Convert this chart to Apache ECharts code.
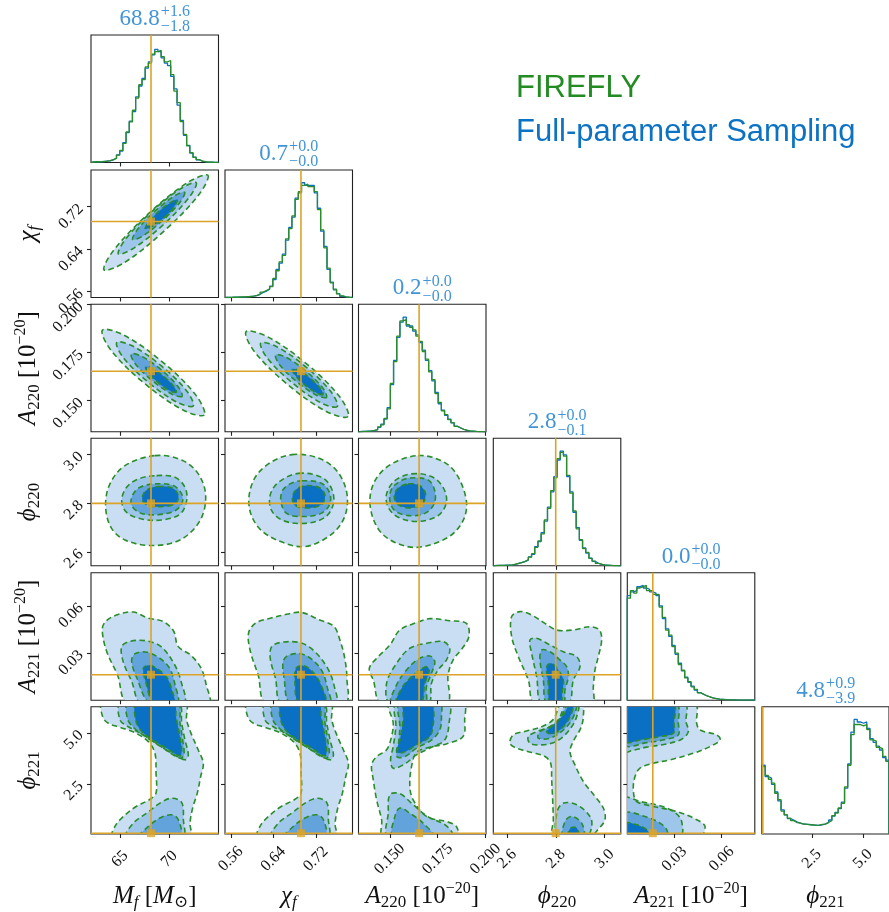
<!DOCTYPE html>
<html><head><meta charset="utf-8">
<script src="https://cdn.jsdelivr.net/npm/echarts@6/dist/echarts.min.js"></script>
<style>html,body{margin:0;padding:0;background:#fff}#c{width:889px;height:912px}</style>
</head><body><div id="c"></div>
<script>
// ================= DATA =================
const axisMin = [62.06, 0.549, 0.1337, 2.543, 0, 0.05];
const axisMax = [74.98, 0.789, 0.2002, 3.066, 0.081, 6.28];
const truthValues = [68.14, 0.692, 0.1653, 2.799, 0.0162, 0.09];
const tickValues = [[65,70],[0.56,0.64,0.72],[0.150,0.175,0.200],[2.6,2.8,3.0],[0.03,0.06],[2.5,5.0]];
const tickLabels = [['65','70'],['0.56','0.64','0.72'],['0.150','0.175','0.200'],['2.6','2.8','3.0'],['0.03','0.06'],['2.5','5.0']];
const titleMedian = ['68.8','0.7','0.2','2.8','0.0','4.8'];
const titlePlus = ['+1.6','+0.0','+0.0','+0.0','+0.0','+0.9'];
const titleMinus = ['\u22121.8','\u22120.0','\u22120.0','\u22120.1','\u22120.0','\u22123.9'];
const axisTitles = [
  '{i|M}{sbi|f} {r|[}{i|M}{sb|\u2299}{r|]}',
  '{i|\u03c7}{sbi|f}',
  '{i|A}{sb|220} {r|[10}{sp|\u221220}{r|]}',
  '{i|\u03d5}{sb|220}',
  '{i|A}{sb|221} {r|[10}{sp|\u221220}{r|]}',
  '{i|\u03d5}{sb|221}'
];
const legendLabels = ['FIREFLY', 'Full-parameter Sampling'];

// 1D histograms (40 bins across each axis range), peak-normalised heights
const histBlue_Mf = [0.005,0.005,0.005,0.007,0.010,0.012,0.020,0.035,0.060,0.090,0.156,0.234,0.325,0.400,0.514,0.600,0.660,0.740,0.790,0.844,0.888,0.870,0.820,0.780,0.760,0.675,0.577,0.450,0.330,0.213,0.135,0.073,0.042,0.020,0.010,0.005,0.003,0.002,0.001,0.000];
const histGreen_Mf = [0.004,0.006,0.005,0.008,0.010,0.014,0.022,0.033,0.058,0.095,0.150,0.240,0.318,0.410,0.505,0.610,0.650,0.750,0.780,0.850,0.870,0.880,0.830,0.790,0.800,0.690,0.560,0.470,0.320,0.220,0.130,0.078,0.040,0.022,0.011,0.006,0.003,0.002,0.001,0.000];
const histBlue_chif = [0,0,0.002,0.003,0.003,0.004,0.005,0.008,0.010,0.015,0.025,0.040,0.050,0.065,0.090,0.140,0.220,0.270,0.340,0.450,0.550,0.630,0.780,0.820,0.900,0.880,0.880,0.880,0.820,0.700,0.520,0.400,0.220,0.120,0.060,0.030,0.010,0.005,0.002,0];
const histGreen_chif = [0,0.001,0.002,0.002,0.004,0.004,0.006,0.007,0.011,0.016,0.024,0.042,0.055,0.068,0.085,0.150,0.210,0.280,0.330,0.460,0.540,0.640,0.770,0.830,0.880,0.890,0.870,0.870,0.830,0.690,0.530,0.390,0.230,0.115,0.065,0.028,0.012,0.005,0.002,0];
const histBlue_A220 = [0.003,0.003,0.005,0.006,0.010,0.018,0.035,0.060,0.100,0.190,0.370,0.560,0.740,0.860,0.900,0.830,0.830,0.790,0.760,0.700,0.640,0.560,0.480,0.400,0.310,0.220,0.170,0.130,0.100,0.070,0.045,0.030,0.020,0.012,0.008,0.005,0.003,0.002,0.001,0];
const histGreen_A220 = [0.002,0.004,0.004,0.007,0.011,0.016,0.038,0.055,0.105,0.180,0.380,0.550,0.750,0.870,0.880,0.840,0.820,0.800,0.750,0.710,0.630,0.570,0.470,0.410,0.300,0.230,0.165,0.135,0.095,0.072,0.043,0.032,0.019,0.013,0.007,0.005,0.003,0.002,0.001,0];
const histBlue_phi220 = [0.003,0.003,0.004,0.005,0.005,0.008,0.012,0.020,0.025,0.035,0.045,0.070,0.090,0.150,0.190,0.260,0.350,0.460,0.580,0.700,0.830,0.900,0.870,0.700,0.580,0.420,0.300,0.200,0.140,0.100,0.060,0.035,0.020,0.012,0.007,0.004,0.003,0.002,0.001,0];
const histGreen_phi220 = [0.002,0.004,0.004,0.004,0.006,0.008,0.013,0.018,0.027,0.033,0.048,0.068,0.095,0.145,0.195,0.250,0.360,0.450,0.590,0.690,0.840,0.890,0.860,0.710,0.570,0.430,0.290,0.205,0.135,0.105,0.058,0.037,0.019,0.013,0.006,0.005,0.003,0.002,0.001,0];
const histBlue_A221 = [0.82,0.85,0.86,0.89,0.90,0.88,0.87,0.85,0.84,0.82,0.74,0.64,0.56,0.50,0.43,0.36,0.29,0.23,0.18,0.14,0.11,0.08,0.06,0.045,0.035,0.025,0.018,0.012,0.008,0.006,0.004,0.003,0.002,0.002,0.001,0.001,0.001,0,0,0];
const histGreen_A221 = [0.80,0.86,0.84,0.88,0.89,0.90,0.86,0.86,0.83,0.83,0.73,0.65,0.55,0.51,0.42,0.37,0.28,0.235,0.175,0.145,0.105,0.085,0.058,0.047,0.033,0.026,0.017,0.013,0.008,0.006,0.004,0.003,0.002,0.001,0.001,0.001,0,0,0,0];
const histBlue_phi221 = [0.54,0.45,0.44,0.39,0.33,0.26,0.19,0.15,0.12,0.11,0.095,0.085,0.08,0.075,0.075,0.07,0.07,0.068,0.072,0.08,0.09,0.11,0.14,0.17,0.20,0.25,0.36,0.55,0.80,0.90,0.88,0.87,0.88,0.83,0.75,0.72,0.69,0.66,0.60,0.58];
const histGreen_phi221 = [0.53,0.46,0.43,0.40,0.32,0.27,0.18,0.15,0.125,0.105,0.09,0.088,0.078,0.077,0.072,0.073,0.068,0.07,0.075,0.078,0.092,0.105,0.145,0.165,0.205,0.24,0.37,0.54,0.78,0.86,0.86,0.85,0.86,0.82,0.74,0.73,0.68,0.67,0.61,0.57];

// 2D credible contours: [level, [[x,y],...]] in data units (level 1 = outermost)
const c_chif_Mf = [
 [1,[[73.91,0.779],[72.93,0.741],[69.46,0.674],[65.47,0.615],[63.38,0.601],[64.36,0.638],[67.83,0.706],[71.82,0.765]]],
 [2,[[72.73,0.765],[71.99,0.737],[69.39,0.686],[66.40,0.642],[64.83,0.631],[65.57,0.659],[68.17,0.710],[71.16,0.754]]],
 [3,[[71.55,0.747],[71.06,0.728],[69.32,0.694],[67.33,0.665],[66.28,0.658],[66.77,0.677],[68.51,0.711],[70.50,0.740]]],
 [4,[[70.80,0.733],[70.45,0.719],[69.45,0.699],[68.25,0.683],[67.55,0.678],[67.95,0.692],[68.99,0.712],[70.15,0.728]]]
];
const c_A220_Mf = [
 [1,[[73.54,0.14252],[71.39,0.14505],[67.46,0.15903],[64.08,0.17629],[63.21,0.18673],[65.36,0.18420],[69.28,0.17022],[72.67,0.15296]]],
 [2,[[72.42,0.14719],[70.80,0.14908],[67.86,0.15956],[65.32,0.17251],[64.67,0.18033],[66.28,0.17844],[69.22,0.16795],[71.76,0.15500]]],
 [3,[[71.29,0.15218],[70.22,0.15345],[68.26,0.16043],[66.56,0.16908],[66.13,0.17430],[67.20,0.17303],[69.17,0.16605],[70.86,0.15740]]],
 [4,[[70.70,0.15435],[70.06,0.15511],[68.88,0.15930],[67.86,0.16449],[67.60,0.16762],[68.24,0.16686],[69.42,0.16267],[70.44,0.15748]]]
];
const c_A220_chif = [
 [1,[[0.7807,0.14166],[0.7406,0.14419],[0.6677,0.15816],[0.6047,0.17542],[0.5885,0.18586],[0.6286,0.18333],[0.7015,0.16936],[0.7645,0.15209]]],
 [2,[[0.7604,0.14684],[0.7304,0.14873],[0.6757,0.15922],[0.6285,0.17217],[0.6163,0.18000],[0.6464,0.17810],[0.7010,0.16761],[0.7482,0.15466]]],
 [3,[[0.7402,0.15166],[0.7201,0.15293],[0.6837,0.15991],[0.6522,0.16856],[0.6441,0.17378],[0.6641,0.17251],[0.7006,0.16553],[0.7321,0.15688]]],
 [4,[[0.7335,0.15313],[0.7215,0.15390],[0.6996,0.15809],[0.6807,0.16327],[0.6759,0.16641],[0.6878,0.16565],[0.7098,0.16145],[0.7287,0.15627]]]
];
const c_phi220_Mf = [
 [1,[[68.54,2.995],[71.24,2.977],[72.93,2.920],[73.68,2.831],[73.10,2.728],[71.08,2.649],[68.20,2.626],[65.50,2.649],[64.08,2.701],[63.54,2.790],[63.98,2.879],[65.50,2.954]]],
 [2,[[68.71,2.913],[70.57,2.906],[71.58,2.865],[71.75,2.810],[71.08,2.755],[69.22,2.731],[67.19,2.735],[65.67,2.762],[65.17,2.810],[65.67,2.865],[66.85,2.899]]],
 [3,[[68.54,2.879],[70.40,2.872],[71.24,2.838],[71.31,2.803],[70.57,2.769],[68.88,2.753],[67.19,2.758],[66.18,2.790],[66.25,2.831],[67.02,2.865]]],
 [4,[[68.88,2.868],[70.30,2.862],[70.91,2.831],[70.64,2.799],[69.39,2.786],[67.87,2.790],[67.26,2.813],[67.46,2.844],[68.04,2.861]]]
];
const c_phi220_chif = [
 [1,[[0.6746,2.999],[0.7248,2.985],[0.7593,2.933],[0.7781,2.844],[0.7750,2.749],[0.7499,2.673],[0.6997,2.622],[0.6494,2.646],[0.6118,2.701],[0.5942,2.790],[0.6024,2.892],[0.6306,2.961]]],
 [2,[[0.6871,2.922],[0.7311,2.906],[0.7499,2.858],[0.7530,2.797],[0.7373,2.742],[0.6997,2.717],[0.6589,2.728],[0.6369,2.769],[0.6338,2.831],[0.6494,2.885]]],
 [3,[[0.6934,2.892],[0.7311,2.881],[0.7467,2.838],[0.7449,2.790],[0.7279,2.756],[0.6934,2.745],[0.6651,2.758],[0.6545,2.803],[0.6570,2.851],[0.6714,2.879]]],
 [4,[[0.7028,2.872],[0.7279,2.862],[0.7373,2.831],[0.7311,2.794],[0.7059,2.780],[0.6808,2.790],[0.6758,2.824],[0.6840,2.858]]]
];
const c_phi220_A220 = [
 [1,[[0.16482,2.995],[0.17695,2.974],[0.18475,2.920],[0.18995,2.810],[0.18822,2.728],[0.18042,2.660],[0.16482,2.619],[0.15269,2.639],[0.14402,2.694],[0.13969,2.797],[0.14228,2.892],[0.15095,2.961]]],
 [2,[[0.16135,2.920],[0.17175,2.909],[0.17782,2.865],[0.17955,2.803],[0.17521,2.749],[0.16482,2.725],[0.15442,2.742],[0.14922,2.783],[0.14835,2.838],[0.15269,2.892]]],
 [3,[[0.16049,2.903],[0.17002,2.895],[0.17348,2.851],[0.17314,2.797],[0.16829,2.758],[0.15962,2.749],[0.15269,2.769],[0.15008,2.810],[0.15095,2.858],[0.15529,2.889]]],
 [4,[[0.15962,2.879],[0.16569,2.872],[0.16863,2.838],[0.16690,2.797],[0.16049,2.780],[0.15442,2.794],[0.15234,2.827],[0.15442,2.862]]]
];
const c_A221_Mf = [
 [1,[[65.83,-0.002],[64.74,0.0162],[63.64,0.0311],[63.20,0.0448],[63.55,0.0501],[64.74,0.0543],[66.36,0.0560],[67.81,0.0522],[69.34,0.0501],[70.44,0.0438],[70.88,0.0342],[72.19,0.0285],[73.20,0.0205],[73.73,0.0099],[73.94,-0.002]]],
 [2,[[67.15,-0.002],[66.18,0.0120],[65.31,0.0247],[65.18,0.0342],[66.05,0.0374],[67.59,0.0378],[69.12,0.0342],[70.44,0.0236],[71.18,0.0120],[71.45,-0.002]]],
 [3,[[68.03,-0.002],[66.71,0.0141],[66.18,0.0247],[66.49,0.0294],[67.59,0.0306],[68.90,0.0272],[70.00,0.0205],[70.57,0.0099],[70.80,-0.002]]],
 [4,[[68.46,-0.002],[67.59,0.0120],[67.37,0.0205],[68.03,0.0222],[68.90,0.0194],[69.78,0.0141],[70.30,0.0056],[70.50,-0.002]]]
];
const c_A221_chif = [
 [1,[[0.6276,-0.002],[0.6113,0.0162],[0.5967,0.0311],[0.5934,0.0427],[0.6073,0.0491],[0.6358,0.0522],[0.6684,0.0548],[0.6928,0.0558],[0.7254,0.0512],[0.7539,0.0469],[0.7661,0.0374],[0.7743,0.0268],[0.7784,0.0141],[0.7743,-0.002]]],
 [2,[[0.6561,-0.002],[0.6439,0.0141],[0.6341,0.0268],[0.6374,0.0342],[0.6602,0.0370],[0.6928,0.0363],[0.7173,0.0311],[0.7417,0.0205],[0.7539,0.0099],[0.7564,-0.002]]],
 [3,[[0.6724,-0.002],[0.6602,0.0141],[0.6586,0.0247],[0.6684,0.0285],[0.6928,0.0294],[0.7132,0.0258],[0.7319,0.0183],[0.7417,0.0078],[0.7460,-0.002]]],
 [4,[[0.6887,-0.002],[0.6806,0.0120],[0.6830,0.0205],[0.6969,0.0219],[0.7132,0.0183],[0.7295,0.0099],[0.7376,-0.002]]]
];
const c_A221_A220 = [
 [1,[[0.14575,-0.002],[0.14141,0.0128],[0.13933,0.0202],[0.14315,0.0266],[0.15008,0.0351],[0.15528,0.0446],[0.16395,0.0493],[0.17088,0.0518],[0.18128,0.0505],[0.18995,0.0488],[0.19134,0.0408],[0.18822,0.0336],[0.18302,0.0255],[0.18041,0.0160],[0.17955,-0.002]]],
 [2,[[0.15008,-0.002],[0.14835,0.0107],[0.15355,0.0234],[0.16048,0.0330],[0.16915,0.0361],[0.17782,0.0372],[0.18128,0.0330],[0.17955,0.0255],[0.17521,0.0192],[0.17175,0.0107],[0.17002,-0.002]]],
 [3,[[0.15095,-0.002],[0.15355,0.0097],[0.15875,0.0192],[0.16481,0.0260],[0.17088,0.0281],[0.17348,0.0245],[0.17175,0.0171],[0.16915,0.0086],[0.16828,-0.002]]],
 [4,[[0.15355,-0.002],[0.15615,0.0075],[0.16048,0.0139],[0.16568,0.0192],[0.16950,0.0213],[0.17054,0.0181],[0.16828,0.0107],[0.16603,-0.002]]]
];
const c_A221_phi220 = [
 [1,[[2.7140,-0.002],[2.6867,0.0128],[2.6457,0.0277],[2.6183,0.0404],[2.6183,0.0531],[2.6525,0.0563],[2.7004,0.0541],[2.7550,0.0488],[2.8029,0.0446],[2.8713,0.0446],[2.9396,0.0467],[2.9779,0.0446],[2.9875,0.0383],[2.9738,0.0277],[2.9601,0.0192],[2.9533,0.0086],[2.9465,-0.002]]],
 [2,[[2.7414,-0.002],[2.7209,0.0150],[2.7004,0.0298],[2.6935,0.0383],[2.7209,0.0393],[2.7755,0.0351],[2.8302,0.0308],[2.8849,0.0277],[2.8986,0.0213],[2.8713,0.0128],[2.8508,-0.002]]],
 [3,[[2.7619,-0.002],[2.7482,0.0128],[2.7345,0.0255],[2.7414,0.0319],[2.7755,0.0308],[2.8166,0.0255],[2.8439,0.0213],[2.8508,0.0150],[2.8371,0.0065],[2.8302,-0.002]]],
 [4,[[2.7755,-0.002],[2.7687,0.0107],[2.7619,0.0213],[2.7824,0.0234],[2.8097,0.0192],[2.8302,0.0128],[2.8250,0.0044],[2.8200,-0.002]]]
];
const c_phi221_Mf = [
 [1,[[63.24,6.44],[63.24,5.79],[63.82,5.47],[65.00,5.27],[66.52,5.01],[67.87,4.57],[68.54,4.00],[68.65,3.03],[68.65,2.05],[68.04,1.75],[66.52,1.36],[65.17,0.83],[64.49,0.42],[64.26,-0.07],[72.09,-0.07],[72.09,0.58],[72.36,1.32],[72.83,2.05],[73.17,2.86],[73.44,3.51],[72.93,4.16],[72.26,4.90],[71.75,5.63],[71.58,6.44]]],
 [2,[[65.07,6.44],[65.00,5.63],[65.84,5.30],[67.36,4.90],[68.88,4.41],[70.23,4.00],[71.58,3.68],[71.92,3.92],[71.58,4.65],[71.25,5.47],[70.91,6.44]]],
 [3,[[65.84,6.44],[65.74,5.71],[66.35,5.27],[67.70,4.78],[69.39,4.25],[71.08,3.76],[71.48,3.92],[71.35,4.65],[71.08,5.47],[70.81,6.44]]],
 [4,[[66.69,6.44],[66.52,5.79],[67.02,5.17],[68.21,4.69],[69.73,4.25],[71.08,3.87],[71.25,4.17],[71.01,4.98],[70.67,5.79],[70.47,6.44]]],
 [2,[[65.67,-0.07],[66.35,0.58],[67.70,1.07],[69.05,1.56],[70.23,1.80],[71.25,1.59],[71.42,0.75],[71.35,-0.07]]],
 [3,[[67.02,-0.07],[67.87,0.42],[69.05,0.83],[70.23,0.99],[70.91,0.75],[71.08,-0.07]]]
];
const c_phi221_chif = [
 [1,[[0.5917,6.44],[0.5917,5.79],[0.6024,5.47],[0.6243,5.27],[0.6526,5.01],[0.6777,4.57],[0.6902,4.00],[0.6921,3.03],[0.6921,2.05],[0.6808,1.75],[0.6526,1.36],[0.6275,0.83],[0.6149,0.42],[0.6105,-0.07],[0.7562,-0.07],[0.7562,0.58],[0.7613,1.32],[0.7700,2.05],[0.7763,2.86],[0.7813,3.51],[0.7719,4.16],[0.7594,4.90],[0.7499,5.63],[0.7468,6.44]]],
 [2,[[0.6256,6.44],[0.6243,5.63],[0.6400,5.30],[0.6683,4.90],[0.6965,4.41],[0.7216,4.00],[0.7468,3.68],[0.7531,3.92],[0.7468,4.65],[0.7405,5.47],[0.7342,6.44]]],
 [3,[[0.6400,6.44],[0.6381,5.71],[0.6494,5.27],[0.6745,4.78],[0.7059,4.25],[0.7373,3.76],[0.7449,3.92],[0.7424,4.65],[0.7373,5.47],[0.7323,6.44]]],
 [4,[[0.6557,6.44],[0.6526,5.79],[0.6620,5.17],[0.6840,4.69],[0.7122,4.25],[0.7373,3.87],[0.7405,4.17],[0.7361,4.98],[0.7298,5.79],[0.7260,6.44]]],
 [2,[[0.6369,-0.07],[0.6494,0.58],[0.6745,1.07],[0.6997,1.56],[0.7216,1.80],[0.7405,1.59],[0.7436,0.75],[0.7424,-0.07]]],
 [3,[[0.6620,-0.07],[0.6777,0.42],[0.6997,0.83],[0.7216,0.99],[0.7342,0.75],[0.7373,-0.07]]]
];
const c_phi221_A220 = [
 [1,[[0.15008,6.44],[0.15181,5.47],[0.15095,4.82],[0.14835,4.17],[0.14315,3.84],[0.14055,3.43],[0.14141,2.70],[0.14315,1.72],[0.14575,0.75],[0.14661,-0.07],[0.18510,-0.07],[0.18475,0.42],[0.17955,0.66],[0.16915,0.91],[0.16221,1.72],[0.16048,2.37],[0.16135,3.35],[0.16395,4.04],[0.17088,4.30],[0.17955,4.46],[0.18822,4.82],[0.18908,5.63],[0.18822,6.44]]],
 [2,[[0.15355,6.44],[0.15320,5.30],[0.15181,4.33],[0.15043,3.68],[0.15181,3.27],[0.15788,3.48],[0.16395,3.92],[0.17262,4.33],[0.17868,4.65],[0.18093,5.47],[0.18041,6.44]]],
 [3,[[0.15528,6.44],[0.15528,5.30],[0.15441,4.33],[0.15355,3.84],[0.15788,3.84],[0.16395,4.25],[0.17175,4.65],[0.17608,5.14],[0.17695,5.79],[0.17608,6.44]]],
 [4,[[0.15788,6.44],[0.15701,5.63],[0.15528,4.65],[0.15355,4.08],[0.15701,4.04],[0.16395,4.41],[0.17088,4.82],[0.17262,5.39],[0.17296,6.04],[0.17175,6.44]]],
 [2,[[0.14921,-0.07],[0.14921,1.07],[0.15008,1.97],[0.15528,2.02],[0.16135,1.56],[0.16915,0.94],[0.17955,0.45],[0.18267,-0.07]]],
 [3,[[0.15181,-0.07],[0.15268,0.91],[0.15528,1.32],[0.16048,1.07],[0.16742,0.58],[0.17262,-0.07]]]
];
const c_phi221_phi220 = [
 [1,[[2.8234,6.44],[2.7892,5.66],[2.7414,5.30],[2.6798,5.09],[2.6251,4.90],[2.6115,4.49],[2.6388,4.25],[2.7004,4.04],[2.7550,3.84],[2.7783,3.51],[2.7824,2.70],[2.7865,1.72],[2.7892,0.75],[2.7892,-0.07],[2.9396,-0.07],[2.9738,0.29],[3.0011,0.75],[2.9943,1.32],[2.9601,1.89],[2.9123,2.62],[2.8781,3.43],[2.8576,4.08],[2.8740,4.65],[2.9013,5.22],[2.9123,5.79],[2.9054,6.44]]],
 [2,[[2.8439,6.44],[2.8097,5.63],[2.7755,5.30],[2.7208,5.06],[2.6867,4.82],[2.6935,4.49],[2.7414,4.41],[2.7892,4.52],[2.8302,4.82],[2.8644,5.30],[2.8849,5.79],[2.8917,6.44]]],
 [3,[[2.8508,6.44],[2.8166,5.71],[2.7755,5.30],[2.7345,5.06],[2.7277,4.74],[2.7755,4.74],[2.8302,5.14],[2.8685,5.71],[2.8849,6.44]]],
 [4,[[2.8576,6.44],[2.8302,5.87],[2.7892,5.39],[2.7619,5.06],[2.7892,4.95],[2.8302,5.30],[2.8576,5.79],[2.8740,6.44]]],
 [2,[[2.8097,-0.07],[2.8029,1.07],[2.8302,1.56],[2.8849,1.48],[2.9396,0.91],[2.9465,0.42],[2.9259,-0.07]]],
 [3,[[2.8302,-0.07],[2.8371,0.66],[2.8644,0.91],[2.9054,0.58],[2.9123,-0.07]]],
 [4,[[2.8508,-0.07],[2.8603,0.34],[2.8849,0.34],[2.8917,-0.07]]]
];
const c_phi221_A221 = [
 [1,[[0.04301,6.36],[0.04407,5.47],[0.04619,5.14],[0.05677,4.90],[0.05889,4.65],[0.05254,4.33],[0.04195,4.00],[0.02713,3.68],[0.01654,3.51],[0.00807,3.27],[0.00489,2.86],[0.00383,2.21],[0.00595,1.64],[0.01654,1.40],[0.03136,1.15],[0.04407,0.75],[0.04936,0.42],[0.04619,-0.07],[-0.0015,-0.07],[-0.0015,6.36]]],
 [2,[[0.03666,6.36],[0.03729,5.55],[0.03877,5.06],[0.03454,4.69],[0.02501,4.46],[0.01230,4.30],[0.00277,4.13],[-0.0015,4.08],[-0.0015,6.36]]],
 [3,[[0.03136,6.36],[0.03242,5.47],[0.03242,4.90],[0.02501,4.69],[0.01230,4.52],[-0.0015,4.41],[-0.0015,6.36]]],
 [4,[[0.02925,6.36],[0.02967,5.47],[0.02925,4.98],[0.02077,4.82],[0.00807,4.65],[-0.0015,4.57],[-0.0015,6.36]]],
 [2,[[-0.0015,1.80],[0.00807,1.64],[0.02077,1.43],[0.03030,1.10],[0.03454,0.66],[0.03348,-0.07],[-0.0015,-0.07]]],
 [3,[[-0.0015,1.07],[0.01230,0.88],[0.02077,0.58],[0.02501,0.26],[0.02501,-0.07],[-0.0015,-0.07]]],
 [4,[[-0.0015,0.58],[0.00595,0.50],[0.01230,0.26],[0.01442,-0.07],[-0.0015,-0.07]]]
];

// ================= LAYOUT / STYLE =================
const COL_LEFT = [91, 225, 358.5, 493.3, 627.3, 762];
const ROW_TOP = [35, 170, 304.3, 438.3, 572.7, 706.7];
const PW = 127.5, PH = 127.5;
const SERIF = '"Liberation Serif","DejaVu Serif",serif';
const FRAME = '#222222';
const LEVEL_FILL = ['#c9def2', '#9ec6ea', '#62a3dc', '#0a70c4'];
const GREEN = '#2b8c2b', BLUE = '#0b6fc3', ORANGE = '#dca426';
const TITLE_BLUE = '#4294d8';

const histBlue = [histBlue_Mf, histBlue_chif, histBlue_A220, histBlue_phi220, histBlue_A221, histBlue_phi221];
const histGreen = [histGreen_Mf, histGreen_chif, histGreen_A220, histGreen_phi220, histGreen_A221, histGreen_phi221];
const contourSets = {
  '1,0': c_chif_Mf,
  '2,0': c_A220_Mf, '2,1': c_A220_chif,
  '3,0': c_phi220_Mf, '3,1': c_phi220_chif, '3,2': c_phi220_A220,
  '4,0': c_A221_Mf, '4,1': c_A221_chif, '4,2': c_A221_A220, '4,3': c_A221_phi220,
  '5,0': c_phi221_Mf, '5,1': c_phi221_chif, '5,2': c_phi221_A220, '5,3': c_phi221_phi220, '5,4': c_phi221_A221
};

const NAME_RICH = {
  i:  {fontFamily: SERIF, fontStyle: 'italic', fontSize: 25, lineHeight: 30, color: '#111'},
  r:  {fontFamily: SERIF, fontSize: 25, lineHeight: 30, color: '#111'},
  sb: {fontFamily: SERIF, fontSize: 17, lineHeight: 12, verticalAlign: 'bottom', color: '#111'},
  sbi:{fontFamily: SERIF, fontStyle: 'italic', fontSize: 17, lineHeight: 12, verticalAlign: 'bottom', color: '#111'},
  sp: {fontFamily: SERIF, fontSize: 16, lineHeight: 12, verticalAlign: 'top', color: '#111'}
};
const nameStyle = {fontFamily: SERIF, fontSize: 25, lineHeight: 30, color: '#111', rich: NAME_RICH};

function fmt(ci) {
  return function (v) {
    const i = tickValues[ci].findIndex(t => Math.abs(t - v) < 1e-9);
    return i >= 0 ? tickLabels[ci][i] : '';
  };
}
function stepData(ci, h) {
  const n = h.length, w = (axisMax[ci] - axisMin[ci]) / n;
  const d = [[axisMin[ci], 0]];
  for (let i = 0; i < n; i++) d.push([axisMin[ci] + i * w, h[i]]);
  d.push([axisMax[ci], h[n - 1]]);
  d.push([axisMax[ci], 0]);
  return d;
}

const option = {animation: false, backgroundColor: '#ffffff', grid: [], xAxis: [], yAxis: [], series: [], graphic: []};

for (let r = 0; r < 6; r++) {
  for (let c = 0; c <= r; c++) {
    const k = option.grid.length;
    const bottom = (r === 5);
    option.grid.push({left: COL_LEFT[c], top: ROW_TOP[r], width: PW, height: PH, show: true,
      borderColor: FRAME, borderWidth: 1.1, backgroundColor: 'transparent'});
    option.xAxis.push({
      gridIndex: k, type: 'value', min: axisMin[c], max: axisMax[c],
      axisLine: {show: false}, splitLine: {show: false},
      axisTick: {show: true, customValues: tickValues[c], length: 4, lineStyle: {color: FRAME, width: 1.1}},
      axisLabel: {show: bottom, customValues: tickValues[c], formatter: fmt(c), rotate: 45,
        align: 'center', verticalAlign: 'middle', margin: 25,
        fontFamily: SERIF, fontSize: 16, color: '#111'},
      name: bottom ? axisTitles[c] : '', nameLocation: 'middle', nameGap: 47, nameTextStyle: nameStyle
    });
    if (r === c) {
      option.yAxis.push({gridIndex: k, type: 'value', min: 0, max: 1,
        axisLine: {show: false}, axisTick: {show: false}, axisLabel: {show: false}, splitLine: {show: false}});
    } else {
      option.yAxis.push({
        gridIndex: k, type: 'value', min: axisMin[r], max: axisMax[r],
        axisLine: {show: false}, splitLine: {show: false},
        axisTick: {show: true, customValues: tickValues[r], length: 4, lineStyle: {color: FRAME, width: 1.1}},
        axisLabel: {show: c === 0, customValues: tickValues[r], formatter: fmt(r), rotate: 45, margin: 10,
          fontFamily: SERIF, fontSize: 16, color: '#111'},
        name: c === 0 ? axisTitles[r] : '', nameLocation: 'middle', nameGap: 48, nameRotate: 90,
        nameTextStyle: nameStyle
      });
    }

    if (r === c) {
      option.series.push({type: 'line', xAxisIndex: k, yAxisIndex: k, data: stepData(c, histBlue[c]), step: 'end',
        symbol: 'none', lineStyle: {color: BLUE, width: 1.3}, z: 3, silent: true});
      option.series.push({type: 'line', xAxisIndex: k, yAxisIndex: k, data: stepData(c, histGreen[c]), step: 'end',
        symbol: 'none', lineStyle: {color: GREEN, width: 1.3}, z: 4, silent: true});
      option.series.push({type: 'line', xAxisIndex: k, yAxisIndex: k,
        data: [[truthValues[c], 0], [truthValues[c], 1]],
        symbol: 'none', lineStyle: {color: ORANGE, width: 1.6}, z: 6, silent: true});
    } else {
      const polys = contourSets[r + ',' + c];
      option.series.push({
        type: 'custom', xAxisIndex: k, yAxisIndex: k, clip: true, silent: true, z: 2,
        data: polys.map(p => p[1][0]),
        renderItem: function (params, api) {
          const poly = polys[params.dataIndex];
          const pts = poly[1].map(p => api.coord(p));
          const cs = params.coordSys;
          return {type: 'group',
            clipPath: {type: 'rect', shape: {x: cs.x, y: cs.y, width: cs.width, height: cs.height}},
            children: [
              {type: 'polygon', z2: poly[0], shape: {points: pts, smooth: 0.35},
                style: {fill: LEVEL_FILL[poly[0] - 1], stroke: null}},
              {type: 'polygon', z2: 20 + poly[0], shape: {points: pts, smooth: 0.35},
                style: {fill: 'none', stroke: GREEN, lineWidth: 1.6, lineDash: [5.5, 3.5]}}
            ]};
        }
      });
      option.series.push({type: 'line', xAxisIndex: k, yAxisIndex: k,
        data: [[truthValues[c], axisMin[r]], [truthValues[c], axisMax[r]]],
        symbol: 'none', lineStyle: {color: ORANGE, width: 1.6}, z: 6, silent: true});
      option.series.push({type: 'line', xAxisIndex: k, yAxisIndex: k,
        data: [[axisMin[c], truthValues[r]], [axisMax[c], truthValues[r]]],
        symbol: 'none', lineStyle: {color: ORANGE, width: 1.6}, z: 6, silent: true});
      option.series.push({type: 'scatter', xAxisIndex: k, yAxisIndex: k,
        data: [[truthValues[c], truthValues[r]]], symbol: 'rect', symbolSize: 8,
        itemStyle: {color: ORANGE}, z: 7, silent: true});
    }
  }
}

// diagonal titles (median with +/- errors)
const mctx = document.createElement('canvas').getContext('2d');
function tw(text, font) { mctx.font = font; return mctx.measureText(text).width; }
const FM = '23px ' + SERIF, FS = '16px ' + SERIF;
for (let c = 0; c < 6; c++) {
  const w1 = tw(titleMedian[c], FM);
  const w2 = Math.max(tw(titlePlus[c], FS), tw(titleMinus[c], FS));
  const cx = COL_LEFT[c] + PW / 2;
  const x0 = cx - (w1 + w2 + 1) / 2;
  const top = ROW_TOP[c];
  option.graphic.push({type: 'text', x: x0, y: top - 16, silent: true,
    style: {text: titleMedian[c], font: FM, fill: TITLE_BLUE, align: 'left', verticalAlign: 'middle'}});
  option.graphic.push({type: 'text', x: x0 + w1 + 1, y: top - 23, silent: true,
    style: {text: titlePlus[c], font: FS, fill: TITLE_BLUE, align: 'left', verticalAlign: 'middle'}});
  option.graphic.push({type: 'text', x: x0 + w1 + 1, y: top - 8, silent: true,
    style: {text: titleMinus[c], font: FS, fill: TITLE_BLUE, align: 'left', verticalAlign: 'middle'}});
}
// legend-like labels
option.graphic.push({type: 'text', x: 516, y: 88, silent: true,
  style: {text: legendLabels[0], font: '31px "Liberation Sans", Arial, sans-serif', fill: '#228b22', align: 'left', verticalAlign: 'middle'}});
option.graphic.push({type: 'text', x: 516, y: 132, silent: true,
  style: {text: legendLabels[1], font: '31px "Liberation Sans", Arial, sans-serif', fill: '#0b72c4', align: 'left', verticalAlign: 'middle'}});

const chart = echarts.init(document.getElementById('c'), null, {renderer: 'canvas'});
chart.setOption(option);
</script>
</body></html>
